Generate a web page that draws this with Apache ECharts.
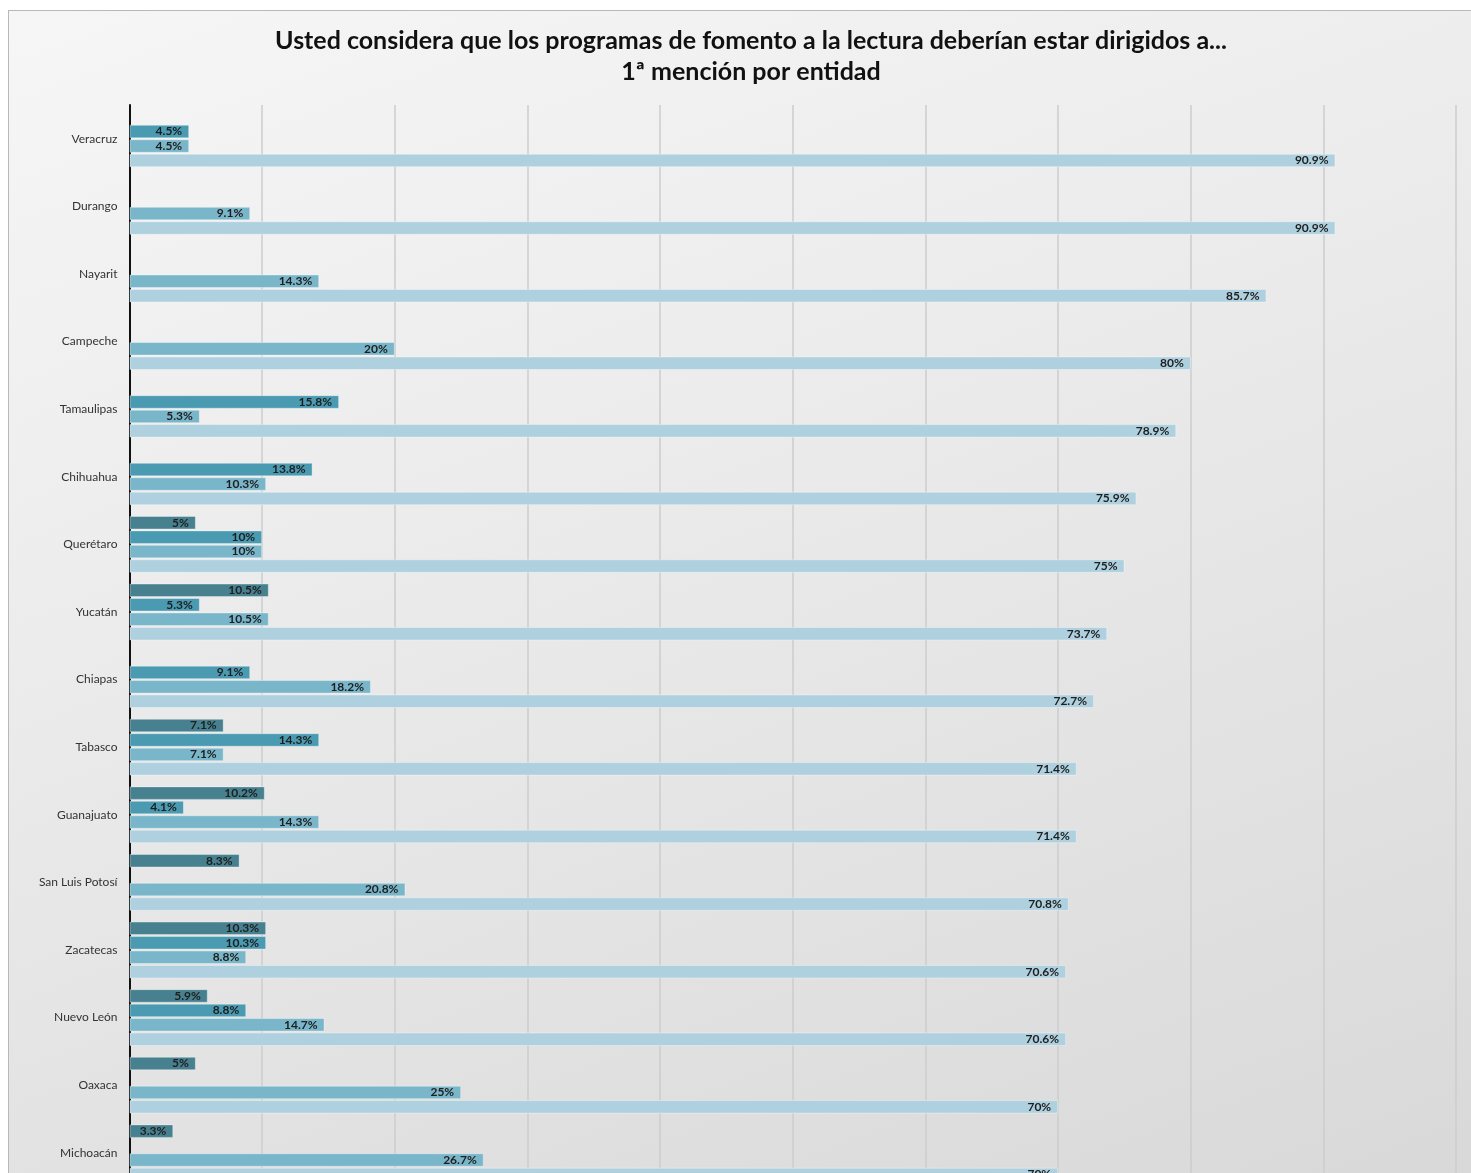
<!DOCTYPE html>
<html>
<head>
<meta charset="UTF-8">
<title>Fomento a la lectura</title>
<script src="https://cdn.jsdelivr.net/npm/echarts@6/dist/echarts.min.js"></script>
<style>
  html, body { margin: 0; padding: 0; background: #fff; overflow: hidden; }
  #grafica {
    position: absolute; left: 8px; top: 10px;
    width: 1484px; height: 1300px;
    border: 1px solid #b8b8b8;
    background: linear-gradient(160deg, #f6f6f6 0%, #ececec 35%, #d6d6d6 100%);
  }
</style>
</head>
<body>
<div id="grafica"></div>
<script type="text/javascript">
// entidades (de arriba hacia abajo)
var entidades = ['Veracruz', 'Durango', 'Nayarit', 'Campeche', 'Tamaulipas', 'Chihuahua', 'Querétaro', 'Yucatán',
  'Chiapas', 'Tabasco', 'Guanajuato', 'San Luis Potosí', 'Zacatecas', 'Nuevo León', 'Oaxaca', 'Michoacán'];

// porcentajes por serie, '-' = sin barra
var serie1 = ['-', '-', '-', '-', '-', '-', 5, 10.5, '-', 7.1, 10.2, 8.3, 10.3, 5.9, 5, 3.3];
var serie2 = [4.5, '-', '-', '-', 15.8, 13.8, 10, 5.3, 9.1, 14.3, 4.1, '-', 10.3, 8.8, '-', '-'];
var serie3 = [4.5, 9.1, 14.3, 20, 5.3, 10.3, 10, 10.5, 18.2, 7.1, 14.3, 20.8, 8.8, 14.7, 25, 26.7];
var serie4 = [90.9, 90.9, 85.7, 80, 78.9, 75.9, 75, 73.7, 72.7, 71.4, 71.4, 70.8, 70.6, 70.6, 70, 70];

var colores = ['#47808f', '#4a9ab1', '#7ab6ca', '#afd0de'];
var nombres = ['Serie 1', 'Serie 2', 'Serie 3', 'Serie 4'];

var myChart = echarts.init(document.getElementById('grafica'));

function barra(nombre, datos, color) {
  return {
    name: nombre,
    type: 'bar',
    data: datos,
    barWidth: 13.5,
    barGap: '7%',
    itemStyle: { color: color, borderColor: 'rgba(255,255,255,0.35)', borderWidth: 1 },
    label: {
      show: true,
      position: 'insideRight',
      distance: 7,
      color: '#1e1e1e',
      fontFamily: 'Lato',
      fontWeight: 'bold',
      fontSize: 12,
      formatter: function (p) { return p.value + '%'; }
    }
  };
}

myChart.setOption({
  animation: false,
  title: {
    text: 'Usted considera que los programas de fomento a la lectura deberían estar dirigidos a...\n1ª mención por entidad',
    left: 'center',
    top: 9,
    textStyle: { fontFamily: 'Lato', fontWeight: 'bold', fontSize: 25, color: '#111', lineHeight: 31 }
  },
  grid: { left: 120.5, top: 94, width: 1326.7, height: 1081.6, containLabel: false },
  xAxis: {
    type: 'value',
    min: 0,
    max: 100,
    interval: 10,
    axisLabel: { show: false },
    axisLine: { show: false },
    axisTick: { show: false },
    splitLine: { show: true, lineStyle: { color: '#cdcdcd', width: 1.5 } }
  },
  yAxis: {
    type: 'category',
    inverse: true,
    data: entidades,
    axisLine: { show: true, lineStyle: { color: '#111', width: 2 } },
    axisTick: { show: false },
    axisLabel: { color: '#333', fontFamily: 'Lato', fontSize: 12, margin: 12 }
  },
  series: [
    barra(nombres[0], serie1, colores[0]),
    barra(nombres[1], serie2, colores[1]),
    barra(nombres[2], serie3, colores[2]),
    barra(nombres[3], serie4, colores[3])
  ]
});
</script>
</body>
</html>
